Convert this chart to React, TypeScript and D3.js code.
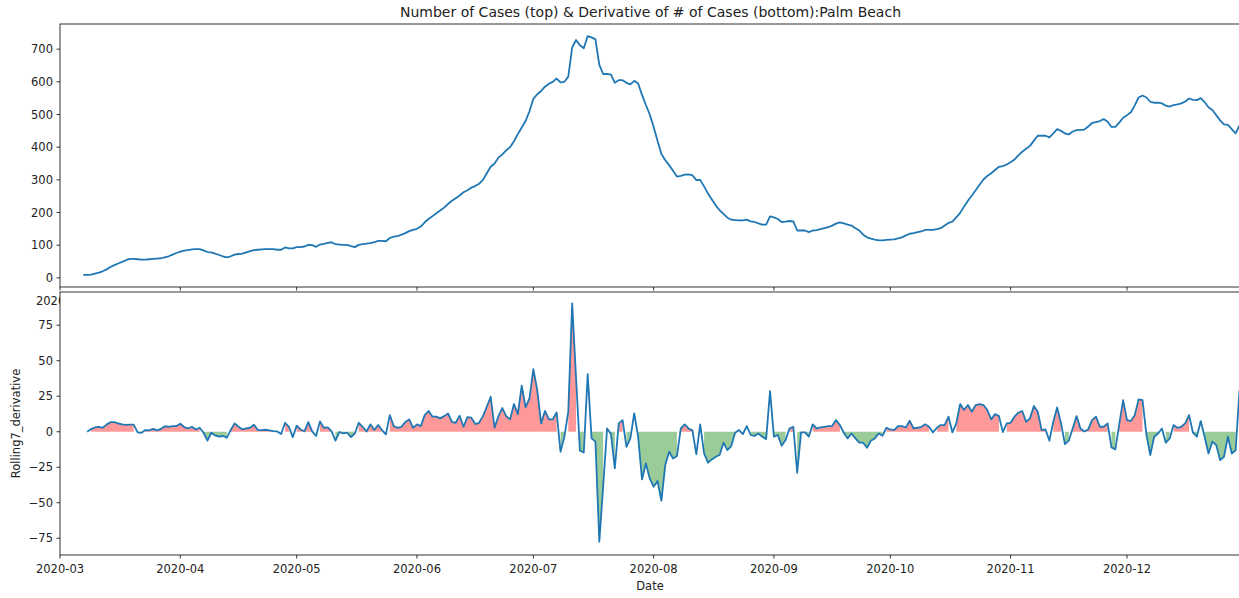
import { useEffect, useRef } from "react";
import * as d3 from "d3";

// daily rolling-7 case counts, starting 2020-03-07
const caseStart = new Date(2020, 2, 7);
const cases = [
  9, 9, 10, 13, 16, 20, 26, 33, 39, 44,
  49, 54, 58, 58, 57, 56, 56, 57, 58, 59,
  60, 63, 66, 71, 76, 80, 83, 85, 87, 88,
  88, 84, 79, 78, 74, 70, 66, 63, 66, 71,
  73, 74, 78, 82, 85, 86, 87, 88, 88, 88,
  86, 86, 93, 90, 90, 94, 94, 96, 101, 100,
  95, 102, 104, 107, 109, 103, 102, 101, 101, 97,
  94, 101, 103, 105, 106, 109, 113, 113, 112, 122,
  126, 128, 132, 137, 143, 147, 150, 157, 170, 180,
  189, 198, 206, 215, 226, 236, 244, 252, 262, 268,
  276, 281, 288, 300, 320, 340, 350, 368, 378, 390,
  400, 418, 440, 460, 480, 510, 548, 562, 572, 585,
  594, 600, 610, 598, 600, 616, 705, 728, 712, 703,
  740, 736, 730, 652, 624, 624, 622, 597, 605, 605,
  597, 592, 603, 595, 560, 529, 500, 462, 420, 379,
  360, 345, 328, 310, 312, 316, 317, 314, 299, 300,
  280, 258, 240, 222, 207, 196, 184, 178, 177, 176,
  176, 178, 173, 171, 167, 163, 163, 188, 185, 180,
  171, 172, 174, 173, 145, 145, 145, 140, 145, 146,
  149, 152, 155, 160, 166, 170, 167, 163, 160, 152,
  145, 132, 124, 120, 117, 115, 115, 116, 117, 118,
  121, 124, 130, 135, 137, 140, 142, 147, 147, 147,
  149, 152, 160, 168, 172, 185, 199, 218, 236, 252,
  268, 285, 301, 312, 320, 330, 340, 342, 347, 354,
  362, 375, 386, 395, 404, 420, 435, 435, 435, 430,
  442, 455, 450, 442, 439, 448, 452, 453, 454, 463,
  474, 477, 480, 486, 478, 462, 462, 475, 490, 498,
  507, 528, 552, 558, 552, 539, 536, 536, 534, 527,
  524, 529, 531, 534, 540, 549, 545, 544, 550, 538,
  522, 514, 498, 482, 470, 468, 455, 442, 467,
];

// daily Rolling7_derivative, starting 2020-03-08
const derivStart = new Date(2020, 2, 8);
const deriv = [
  0, 1.8, 3, 3.5, 2.8, 5, 6.7, 6.8, 5.8, 5.2,
  4.9, 5, 5, -0.5, -0.7, 1.2, 0.9, 2, 0.9, 2,
  3.8, 3.5, 4, 4, 5.6, 3.3, 2.3, 3.5, 1.6, 2.8,
  -0.7, -6.3, -0.7, -2.6, -3.5, -3, -4.2, 1.2, 5.9, 3.5,
  1.6, 2.3, 2.8, 4.9, 1.2, 1.2, 1.4, 0.9, 0.5, 0.2,
  -1.6, 6.3, 3.5, -3.8, 4.2, 1.6, 0.3, 6.8, 0.3, -3,
  7.3, 2.8, 3, 0.2, -6.3, -0.2, -1.2, -0.7, -3.8, -1.2,
  6.3, 3.5, 0.2, 5.2, 1.2, 4.7, 1.2, -1.9, 11.7, 4,
  2.8, 3.5, 6.8, 8.7, 2.8, 5.2, 4, 11.7, 14.6, 10.6,
  10.6, 9.4, 11, 12.9, 7, 6.3, 11.3, 3.5, 10.3, 9.9,
  5.4, 6.3, 11, 17.6, 24.6, 2.8, 11, 16.7, 11, 8.7,
  19.5, 12.4, 32.4, 17.1, 23.5, 44.1, 29.3, 5.9, 14.6, 8.7,
  8.7, 13.6, -14.1, -3.5, 14.1, 90.4, 38, -13.4, -14.6, 40.6,
  -4.7, -7, -77.5, -38, 2.3, -1.6, -25.8, 5.9, 8.2, -10.6,
  -4.7, 12.9, -3.5, -33.6, -22.3, -33, -38.7, -34.7, -48.6, -23.5,
  -14.1, -18.8, -17.1, 2.3, 5.2, 2.3, 1, -16, 5.2, -15.3,
  -21.8, -19.5, -17.6, -16.4, -7.7, -12.9, -10.1, -0.7, 1.2, -1.6,
  4, -2.3, -3, -1.2, -3.5, -5.2, 28.6, -3.5, -2.3, -9.9,
  -5.9, 2.3, 3.5, -28.9, -0.5, -0.5, -3.5, 5.2, 2.3, 3,
  3.5, 4, 4, 8.2, 4.7, -0.7, -4.7, -1.2, -4.7, -7.7,
  -7.7, -11.3, -6.3, -4.7, -1.2, -2.8, 2.8, 1.6, 1.2, 4,
  4, 3, 7.7, 2.3, 2.8, 3.5, 5.2, 3.5, -0.5, 2.8,
  4.7, 4.7, 10.6, -0.5, 5.9, 19.5, 15.3, 18.8, 14.1, 18.8,
  19.5, 18.8, 15.3, 8.7, 12.4, 11, -0.3, 5.9, 6.3, 10.6,
  13.4, 14.6, 7, 9.4, 18.1, 14.1, 1.2, 1.6, -6.3, 7,
  17.1, 5.9, -8.7, -6.3, 2.3, 11, 2.3, 0.2, 1.6, 8.2,
  10.6, 3.5, 3.5, 5.9, -11, -12.4, 5.2, 22.3, 8.2, 7.5,
  11.7, 22.8, 22.3, -2, -16.4, -3.5, -1.2, 2.3, -7.7, -4.7,
  4.7, 2.8, 3.5, 5.9, 11.7, -0.7, -3.5, 7.5, -3.5, -15.3,
  -7, -9.4, -20, -17.6, -3.5, -15.3, -13, 29.3,
];

const topTicks = [0, 100, 200, 300, 400, 500, 600, 700];
const bottomTicks = [-75, -50, -25, 0, 25, 50, 75];
const title = "Number of Cases (top) & Derivative of # of Cases (bottom):Palm Beach";
const yLabel = "Rolling7_derivative";
const xLabel = "Date";

const FONT = "DejaVu Sans";

export default function App() {
  const svgRef = useRef<SVGSVGElement>(null);

  useEffect(() => {
    if (!svgRef.current) return;
    const svg = d3.select(svgRef.current);
    svg.selectAll("*").remove();

    const left = 60, right = 1250;
    const top1 = 24, bot1 = 287;
    const top2 = 292, bot2 = 555;

    const x = d3.scaleTime()
      .domain([new Date(2020, 2, 1), new Date(2020, 11, 1)])
      .range([60, 1127]);
    const y1 = d3.scaleLinear().domain([-28, 777]).range([bot1, top1]);
    const y2 = d3.scaleLinear().domain([-86.8, 98.4]).range([bot2, top2]);

    const caseData = cases.map((v, i) => ({ date: d3.timeDay.offset(caseStart, i), v }));
    const derivData = deriv.map((v, i) => ({ date: d3.timeDay.offset(derivStart, i), v }));
    const months = d3.timeMonth.range(new Date(2020, 2, 1), new Date(2020, 11, 31));
    const fmt = d3.timeFormat("%Y-%m");

    svg.append("rect").attr("width", 1239).attr("height", 598).attr("fill", "#fff");

    // title
    svg.append("text")
      .attr("x", 650.5).attr("y", 17)
      .attr("text-anchor", "middle")
      .attr("font-family", FONT).attr("font-size", 14)
      .attr("fill", "#222")
      .text(title);

    // ---- top panel ----
    const g1 = svg.append("g");
    g1.append("path")
      .datum(caseData)
      .attr("fill", "none")
      .attr("stroke", "#1f77b4")
      .attr("stroke-width", 1.8)
      .attr("stroke-linejoin", "round")
      .attr("d", d3.line<any>().x(d => x(d.date)).y(d => y1(d.v)));

    topTicks.forEach(t => {
      g1.append("line").attr("x1", left - 3.5).attr("x2", left).attr("y1", y1(t)).attr("y2", y1(t)).attr("stroke", "#000").attr("stroke-width", 0.8);
      g1.append("text").attr("x", left - 7).attr("y", y1(t)).attr("dy", "0.35em")
        .attr("text-anchor", "end").attr("font-family", FONT).attr("font-size", 11.5).attr("fill", "#222")
        .text(t);
    });
    months.forEach(m => {
      g1.append("line").attr("x1", x(m)).attr("x2", x(m)).attr("y1", bot1).attr("y2", bot1 + 3.5).attr("stroke", "#000").attr("stroke-width", 0.8);
      g1.append("text").attr("x", x(m)).attr("y", bot1 + 18)
        .attr("text-anchor", "middle").attr("font-family", FONT).attr("font-size", 11.5).attr("fill", "#222")
        .text(fmt(m));
    });
    g1.append("rect").attr("x", left).attr("y", top1).attr("width", right - left).attr("height", bot1 - top1)
      .attr("fill", "none").attr("stroke", "#000").attr("stroke-width", 0.8);

    // ---- bottom panel (drawn over the top panel's date labels) ----
    const g2 = svg.append("g");
    g2.append("rect").attr("x", left).attr("y", top2).attr("width", right - left).attr("height", bot2 - top2).attr("fill", "#fff");

    const areaPos = d3.area<any>()
      .defined(d => d.v > 0)
      .x(d => x(d.date)).y0(y2(0)).y1(d => y2(d.v));
    const areaNeg = d3.area<any>()
      .defined(d => d.v < 0)
      .x(d => x(d.date)).y0(y2(0)).y1(d => y2(d.v));

    g2.append("path").datum(derivData).attr("fill", "red").attr("fill-opacity", 0.4).attr("d", areaPos);
    g2.append("path").datum(derivData).attr("fill", "green").attr("fill-opacity", 0.4).attr("d", areaNeg);

    g2.append("path")
      .datum(derivData)
      .attr("fill", "none")
      .attr("stroke", "#1f77b4")
      .attr("stroke-width", 1.8)
      .attr("stroke-linejoin", "round")
      .attr("d", d3.line<any>().x(d => x(d.date)).y(d => y2(d.v)));

    bottomTicks.forEach(t => {
      g2.append("line").attr("x1", left - 3.5).attr("x2", left).attr("y1", y2(t)).attr("y2", y2(t)).attr("stroke", "#000").attr("stroke-width", 0.8);
      g2.append("text").attr("x", left - 7).attr("y", y2(t)).attr("dy", "0.35em")
        .attr("text-anchor", "end").attr("font-family", FONT).attr("font-size", 11.5).attr("fill", "#222")
        .text(t < 0 ? "\u2212" + Math.abs(t) : String(t));
    });
    months.forEach(m => {
      g2.append("line").attr("x1", x(m)).attr("x2", x(m)).attr("y1", bot2).attr("y2", bot2 + 3.5).attr("stroke", "#000").attr("stroke-width", 0.8);
      g2.append("text").attr("x", x(m)).attr("y", bot2 + 18)
        .attr("text-anchor", "middle").attr("font-family", FONT).attr("font-size", 11.5).attr("fill", "#222")
        .text(fmt(m));
    });
    g2.append("rect").attr("x", left).attr("y", top2).attr("width", right - left).attr("height", bot2 - top2)
      .attr("fill", "none").attr("stroke", "#000").attr("stroke-width", 0.8);

    g2.append("text")
      .attr("transform", `translate(19.5,${(top2 + bot2) / 2}) rotate(-90)`)
      .attr("text-anchor", "middle").attr("font-family", FONT).attr("font-size", 11.5).attr("fill", "#222")
      .text(yLabel);
    g2.append("text")
      .attr("x", 650).attr("y", 590)
      .attr("text-anchor", "middle").attr("font-family", FONT).attr("font-size", 11.5).attr("fill", "#222")
      .text(xLabel);
  }, []);

  return (
    <svg
      ref={svgRef}
      width={1239}
      height={598}
      style={{ position: "absolute", left: 0, top: 0, display: "block" }}
    />
  );
}
